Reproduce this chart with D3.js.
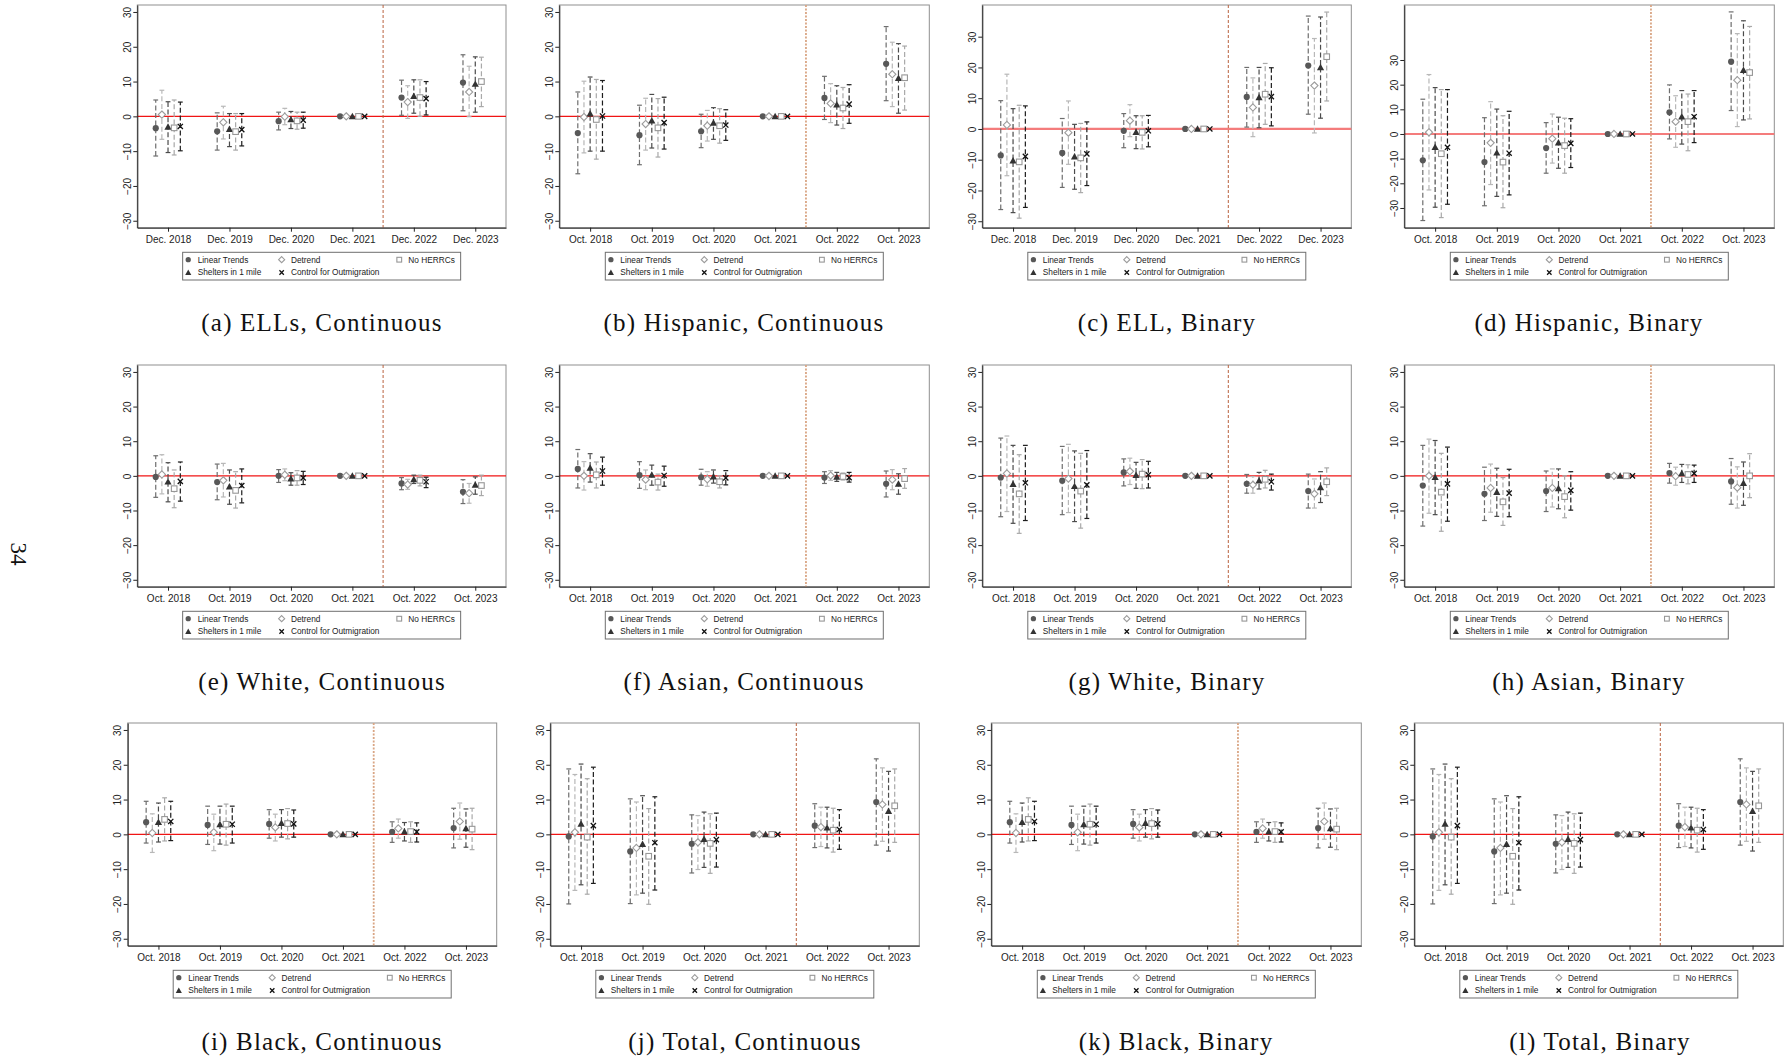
<!DOCTYPE html>
<html>
<head>
<meta charset="utf-8">
<script src="https://cdn.jsdelivr.net/npm/d3@7"></script>
<style>
  html, body { margin: 0; padding: 0; background: #fff; }
  svg { display: block; }
</style>
</head>
<body>
<script>
// ---------- categories, series, ticks ----------
const catsDec = ["Dec. 2018", "Dec. 2019", "Dec. 2020", "Dec. 2021", "Dec. 2022", "Dec. 2023"];
const catsOct = ["Oct. 2018", "Oct. 2019", "Oct. 2020", "Oct. 2021", "Oct. 2022", "Oct. 2023"];
const seriesNames = ["Linear Trends", "Detrend", "Shelters in 1 mile", "No HERRCs", "Control for Outmigration"];
const yTicks = [-30, -20, -10, 0, 10, 20, 30];

// Each estimate table: one row per series (order of seriesNames), one column per period.
// lo / hi are the confidence bounds; the 2021 reference period has no interval.

// (a) ELLs, Continuous
const ellsContEst = [
  [-3.4, -4.3, -1.4, 0, 5.4, 9.7],
  [0.5, -1.7, -0.1, 0, 4.1, 7.0],
  [-3.0, -3.7, -0.9, 0, 5.8, 9.3],
  [-3.3, -4.4, -1.3, 0, 5.4, 10.0],
  [-2.9, -3.8, -1.1, 0, 5.1, null]
];
const ellsContLo = [
  [-11.4, -9.7, -3.9, null, 0.3, 1.6],
  [-6.6, -6.5, -2.4, null, -0.6, -0.1],
  [-10.4, -8.7, -3.5, null, 0.9, 1.2],
  [-11.1, -9.7, -3.7, null, 0.0, 2.8],
  [-9.9, -8.5, -3.4, null, 0.4, null]
];
const ellsContHi = [
  [4.7, 1.0, 1.2, null, 10.4, 17.7],
  [7.5, 2.9, 2.3, null, 8.8, 14.4],
  [4.2, 0.8, 1.4, null, 10.5, 17.1],
  [4.7, 0.8, 1.2, null, 10.5, 17.0],
  [4.1, 0.8, 1.2, null, 10.0, null]
];

// (b) Hispanic, Continuous
const hispContEst = [
  [-4.8, -5.4, -4.3, 0, 5.3, 15.1],
  [-0.2, -2.2, -2.7, 0, 3.7, 12.1],
  [0.8, -1.2, -1.9, 0, 3.4, 11.0],
  [-0.9, -3.3, -2.7, 0, 2.4, 11.1],
  [0.1, -1.8, -2.5, 0, 3.5, null]
];
const hispContLo = [
  [-16.5, -13.9, -9.0, null, -0.9, 4.5],
  [-10.5, -9.7, -7.1, null, -1.8, 2.8],
  [-10.0, -9.1, -6.6, null, -2.5, 0.9],
  [-12.3, -11.7, -7.7, null, -3.5, 1.8],
  [-10.0, -9.4, -6.9, null, -2.0, null]
];
const hispContHi = [
  [7.0, 3.2, 0.6, null, 11.5, 25.8],
  [10.1, 5.2, 1.7, null, 9.4, 21.3],
  [11.3, 6.3, 2.5, null, 8.8, 20.9],
  [10.6, 5.1, 2.2, null, 8.3, 20.2],
  [10.3, 5.5, 1.9, null, 9.1, null]
];

// (c) ELL, Binary
const ellBinEst = [
  [-8.6, -7.8, -0.6, 0, 10.4, 20.6],
  [1.3, -1.2, 2.7, 0, 7.0, 14.1],
  [-10.3, -9.0, -1.0, 0, 10.3, 20.0],
  [-10.7, -9.4, -1.1, 0, 11.3, 23.5],
  [-8.9, -8.1, -0.6, 0, 10.5, null]
];
const ellBinLo = [
  [-26.2, -19.0, -6.1, null, 0.6, 4.8],
  [-15.2, -11.5, -2.5, null, -2.5, -1.3],
  [-27.2, -19.6, -6.4, null, 0.4, 3.5],
  [-29.0, -20.7, -6.5, null, 1.5, 9.1],
  [-25.5, -18.4, -5.8, null, 1.0, null]
];
const ellBinHi = [
  [9.2, 3.4, 5.0, null, 20.0, 36.7],
  [17.8, 9.1, 7.9, null, 16.6, 29.4],
  [6.6, 1.5, 4.3, null, 20.0, 36.4],
  [7.7, 1.8, 4.3, null, 21.3, 38.0],
  [7.5, 2.3, 4.4, null, 19.9, null]
];

// (d) Hispanic, Binary
const hispBinEst = [
  [-10.7, -11.4, -5.7, 0, 8.8, 29.3],
  [0.7, -3.6, -1.9, 0, 5.0, 21.8],
  [-5.3, -7.6, -3.5, 0, 7.0, 25.9],
  [-8.0, -11.4, -4.7, 0, 5.0, 24.9],
  [-5.4, -7.8, -3.8, 0, 7.0, null]
];
const hispBinLo = [
  [-35.1, -29.1, -15.9, null, -2.0, 9.5],
  [-22.7, -20.5, -11.8, null, -5.4, 3.0],
  [-29.7, -25.3, -13.9, null, -4.1, 5.7],
  [-33.9, -29.9, -15.9, null, -6.8, 6.1],
  [-28.5, -24.7, -13.6, null, -3.5, null]
];
const hispBinHi = [
  [14.1, 6.6, 4.6, null, 19.9, 49.5],
  [24.1, 13.1, 8.1, null, 15.5, 40.7],
  [18.8, 10.1, 6.8, null, 17.6, 45.9],
  [18.0, 7.4, 6.4, null, 16.2, 43.6],
  [18.0, 9.2, 6.2, null, 17.6, null]
];

// (e) White, Continuous
const whiteContEst = [
  [-0.3, -1.8, 0.0, 0, -2.2, -4.6],
  [0.4, -1.3, 0.3, 0, -2.5, -5.0],
  [-1.7, -3.1, -0.8, 0, -1.0, -2.6],
  [-3.7, -4.2, -0.6, 0, -1.3, -2.8],
  [-1.6, -2.8, -0.6, 0, -1.7, null]
];
const whiteContLo = [
  [-6.2, -6.9, -1.9, null, -4.0, -8.0],
  [-5.2, -6.1, -1.4, null, -3.9, -7.9],
  [-7.5, -8.2, -2.7, null, -2.2, -5.3],
  [-9.2, -9.3, -2.7, null, -2.9, -5.7],
  [-7.3, -7.8, -2.5, null, -3.4, null]
];
const whiteContHi = [
  [5.8, 3.4, 1.8, null, -0.5, -1.1],
  [6.1, 3.6, 2.0, null, -1.0, -2.2],
  [3.8, 1.7, 0.9, null, 0.2, -0.3],
  [1.7, 1.2, 1.5, null, 0.2, 0.2],
  [4.0, 2.0, 1.3, null, -0.4, null]
];

// (f) Asian, Continuous
const asianContEst = [
  [2.0, 0.2, -0.4, 0, -0.5, -2.3],
  [0.0, -1.1, -1.0, 0, 0.1, -1.1],
  [2.3, 0.3, -0.2, 0, -0.3, -2.3],
  [0.3, -1.8, -1.7, 0, -0.2, -0.8],
  [1.4, 0.1, -0.6, 0, -0.5, null]
];
const asianContLo = [
  [-3.5, -3.6, -2.7, null, -2.2, -6.1],
  [-4.1, -4.0, -3.0, null, -1.3, -4.0],
  [-1.8, -2.7, -2.1, null, -1.6, -5.3],
  [-3.5, -4.1, -3.5, null, -1.2, -3.6],
  [-2.7, -3.0, -2.6, null, -1.8, null]
];
const asianContHi = [
  [7.6, 4.1, 1.9, null, 1.2, 1.4],
  [4.1, 1.7, 1.2, null, 1.5, 1.8],
  [6.4, 3.1, 1.7, null, 1.0, 0.6],
  [4.0, 0.5, 0.0, null, 0.8, 2.1],
  [5.4, 2.8, 1.5, null, 1.0, null]
];

// (g) White, Binary
const whiteBinEst = [
  [-0.5, -1.4, 1.0, 0, -2.3, -4.4],
  [0.7, -0.8, 1.3, 0, -2.6, -5.2],
  [-2.4, -3.0, 0.2, 0, -1.4, -3.3],
  [-5.2, -4.4, 0.5, 0, -1.0, -1.7],
  [-2.0, -2.6, 0.3, 0, -1.7, null]
];
const whiteBinLo = [
  [-11.8, -11.2, -2.9, null, -5.0, -9.3],
  [-10.3, -10.6, -2.5, null, -5.0, -9.3],
  [-13.7, -13.2, -3.6, null, -3.8, -7.7],
  [-16.6, -15.1, -3.7, null, -3.5, -5.7],
  [-12.9, -12.3, -3.5, null, -4.1, null]
];
const whiteBinHi = [
  [10.9, 8.5, 4.9, null, 0.4, 0.5],
  [11.5, 9.1, 5.1, null, -0.2, -0.9],
  [8.8, 7.2, 3.9, null, 1.0, 1.2],
  [6.1, 6.5, 4.7, null, 1.6, 2.3],
  [8.8, 7.3, 4.2, null, 0.5, null]
];

// (h) Asian, Binary
const asianBinEst = [
  [-2.8, -5.2, -4.4, 0, 0.8, -1.6],
  [0.0, -3.5, -3.5, 0, -0.1, -3.4],
  [-0.4, -4.7, -3.6, 0, 0.7, -2.1],
  [-4.7, -7.5, -6.0, 0, 0.4, 0.0],
  [-2.3, -5.0, -4.2, 0, 0.7, null]
];
const asianBinLo = [
  [-14.5, -12.9, -10.3, null, -2.1, -8.2],
  [-10.8, -10.5, -9.0, null, -2.7, -9.3],
  [-11.2, -11.7, -9.5, null, -1.9, -8.5],
  [-16.0, -14.3, -12.1, null, -2.3, -6.3],
  [-13.1, -11.8, -9.9, null, -1.9, null]
];
const asianBinHi = [
  [8.8, 2.5, 1.4, null, 3.6, 5.0],
  [10.6, 3.4, 2.0, null, 2.5, 2.6],
  [10.2, 2.2, 2.0, null, 3.3, 4.0],
  [6.5, -0.5, 0.0, null, 3.2, 6.4],
  [8.3, 1.9, 1.2, null, 3.1, null]
];

// (i) Black, Continuous  and  (k) Black, Binary
const blackEst = [
  [3.5, 2.7, 3.0, 0, 0.7, 1.8],
  [0.4, 0.6, 2.0, 0, 1.7, 3.7],
  [3.5, 2.9, 3.2, 0, 0.8, 1.7],
  [4.3, 2.9, 3.1, 0, 0.8, 1.5],
  [3.7, 2.9, 3.0, 0, 0.7, null]
];
const blackLo = [
  [-2.5, -2.9, -1.1, null, -2.3, -3.9],
  [-5.2, -4.7, -1.9, null, -1.1, -1.4],
  [-2.2, -2.8, -0.8, null, -1.9, -3.7],
  [-1.9, -3.1, -1.3, null, -2.3, -4.4],
  [-1.8, -2.5, -0.8, null, -2.2, null]
];
const blackHi = [
  [9.5, 8.1, 7.1, null, 3.6, 7.5],
  [5.9, 5.8, 5.8, null, 4.4, 9.0],
  [9.0, 8.1, 7.1, null, 3.4, 7.3],
  [10.5, 8.7, 7.4, null, 3.6, 7.5],
  [9.5, 8.1, 7.0, null, 3.3, null]
];

// (j) Total, Continuous  and  (l) Total, Binary
const totalEst = [
  [-0.6, -4.9, -2.7, 0, 2.5, 9.3],
  [0.6, -3.9, -2.3, 0, 2.1, 8.6],
  [3.0, -2.8, -1.4, 0, 1.9, 6.7],
  [-0.8, -6.3, -2.6, 0, 1.2, 8.2],
  [2.5, -2.4, -1.5, 0, 1.4, null]
];
const totalLo = [
  [-20.0, -19.9, -11.1, null, -3.8, -3.1],
  [-16.1, -17.4, -10.1, null, -3.5, -2.0],
  [-14.5, -16.9, -9.5, null, -3.9, -4.8],
  [-17.2, -20.1, -11.2, null, -5.1, -2.3],
  [-14.1, -16.0, -9.4, null, -4.3, null]
];
const totalHi = [
  [18.8, 10.2, 5.6, null, 8.8, 21.7],
  [17.2, 9.3, 5.4, null, 7.8, 19.1],
  [20.2, 11.1, 6.4, null, 7.8, 18.1],
  [16.0, 7.4, 5.9, null, 7.5, 18.8],
  [19.3, 10.8, 6.1, null, 7.1, null]
];

// ---------- panel table ----------
const panels = [
  { caption: "(a) ELLs, Continuous",     cats: catsDec, est: ellsContEst,  lo: ellsContLo,  hi: ellsContHi,  yDomain: [-32, 32] },
  { caption: "(b) Hispanic, Continuous", cats: catsOct, est: hispContEst,  lo: hispContLo,  hi: hispContHi,  yDomain: [-32, 32] },
  { caption: "(c) ELL, Binary",          cats: catsDec, est: ellBinEst,    lo: ellBinLo,    hi: ellBinHi,    yDomain: [-32.1, 40.3] },
  { caption: "(d) Hispanic, Binary",     cats: catsOct, est: hispBinEst,   lo: hispBinLo,   hi: hispBinHi,   yDomain: [-38, 52.3] },
  { caption: "(e) White, Continuous",    cats: catsOct, est: whiteContEst, lo: whiteContLo, hi: whiteContHi, yDomain: [-32, 32] },
  { caption: "(f) Asian, Continuous",    cats: catsOct, est: asianContEst, lo: asianContLo, hi: asianContHi, yDomain: [-32, 32] },
  { caption: "(g) White, Binary",        cats: catsOct, est: whiteBinEst,  lo: whiteBinLo,  hi: whiteBinHi,  yDomain: [-32, 32] },
  { caption: "(h) Asian, Binary",        cats: catsOct, est: asianBinEst,  lo: asianBinLo,  hi: asianBinHi,  yDomain: [-32, 32] },
  { caption: "(i) Black, Continuous",    cats: catsOct, est: blackEst,     lo: blackLo,     hi: blackHi,     yDomain: [-32, 32] },
  { caption: "(j) Total, Continuous",    cats: catsOct, est: totalEst,     lo: totalLo,     hi: totalHi,     yDomain: [-32, 32] },
  { caption: "(k) Black, Binary",        cats: catsOct, est: blackEst,     lo: blackLo,     hi: blackHi,     yDomain: [-32, 32] },
  { caption: "(l) Total, Binary",        cats: catsOct, est: totalEst,     lo: totalLo,     hi: totalHi,     yDomain: [-32, 32] }
];

// ---------- layout ----------
// plot region per panel: [left, right, top, bottom]
const frames = [
  [137.3, 506.0, 5, 227.7], [559.3, 929.3, 5, 227.7], [982.3, 1351.3, 5, 227.7], [1404.3, 1774.3, 5, 227.7],
  [137.3, 506.0, 365, 586.7], [559.3, 929.3, 365, 586.7], [982.3, 1351.3, 365, 586.7], [1404.3, 1774.3, 365, 586.7],
  [127.7, 496.7, 723, 945.7], [550.3, 919.3, 723, 945.7], [991.3, 1361.3, 723, 945.7], [1414.3, 1783.3, 723, 945.7]
];
const captionX = [322, 744, 1167, 1589, 322, 744, 1167, 1589, 322, 745, 1176, 1600];
const captionY = [322, 322, 322, 322, 681.5, 681.5, 681.5, 681.5, 1041, 1041, 1041, 1041];
// dashed policy line look: "fine" = thin dashed, "soft" = wider dotted
const vlineLook = ["fine", "soft", "fine", "soft", "fine", "soft", "fine", "soft", "soft", "fine", "soft", "fine"];
const zeroLook = ["thin", "thin", "wide", "wide", "thin", "thin", "thin", "thin", "thin", "thin", "thin", "thin"];

const offsets = [-0.2, -0.1, 0, 0.1, 0.2];
const barColor = ["#6e6e6e", "#b8b8b8", "#4b4b4b", "#a9a9a9", "#1c1c1c"];
const markerKind = ["circle", "diamond", "triangle", "square", "cross"];

const sansFont = "'Liberation Sans', Arial, Helvetica, sans-serif";
const serifFont = "'Liberation Serif', 'Times New Roman', serif";

const svg = d3.select("body").append("svg")
  .attr("width", 1790).attr("height", 1058)
  .attr("viewBox", "0 0 1790 1058");

function drawMarker(g, kind, cx, cy, k) {
  // k scales the glyph (1 = plot size)
  if (kind === "circle") {
    g.append("circle").attr("cx", cx).attr("cy", cy).attr("r", 3.1 * k).attr("fill", "#585858");
  } else if (kind === "diamond") {
    const r = 3.6 * k;
    g.append("path")
      .attr("d", `M${cx},${cy - r}L${cx + r},${cy}L${cx},${cy + r}L${cx - r},${cy}Z`)
      .attr("fill", "#fff").attr("stroke", "#9c9c9c").attr("stroke-width", 1.1);
  } else if (kind === "triangle") {
    const r = 3.6 * k;
    g.append("path")
      .attr("d", `M${cx},${cy - r}L${cx + r},${cy + r * 0.8}L${cx - r},${cy + r * 0.8}Z`)
      .attr("fill", "#333");
  } else if (kind === "square") {
    const r = 2.8 * k;
    g.append("rect").attr("x", cx - r).attr("y", cy - r).attr("width", 2 * r).attr("height", 2 * r)
      .attr("fill", "#fff").attr("stroke", "#979797").attr("stroke-width", 1.1);
  } else {
    const r = 2.6 * k;
    g.append("path")
      .attr("d", `M${cx - r},${cy - r}L${cx + r},${cy + r}M${cx - r},${cy + r}L${cx + r},${cy - r}`)
      .attr("stroke", "#111").attr("stroke-width", 1.3).attr("fill", "none");
  }
}

panels.forEach((p, i) => {
  const [x0, x1, y0, y1] = frames[i];
  const x = d3.scaleLinear().domain([0.5, 6.5]).range([x0, x1]);
  const y = d3.scaleLinear().domain(p.yDomain).range([y1, y0]);
  const g = svg.append("g").attr("class", "panel");

  // plot region outline
  g.append("rect")
    .attr("x", x0).attr("y", y0).attr("width", x1 - x0).attr("height", y1 - y0)
    .attr("fill", "#fff").attr("stroke", "#8f8f8f").attr("stroke-width", 1);

  // zero reference line
  const wideZero = zeroLook[i] === "wide";
  g.append("line")
    .attr("x1", x0).attr("x2", x1).attr("y1", y(0)).attr("y2", y(0))
    .attr("stroke", wideZero ? "#f47c7c" : "#f01414")
    .attr("stroke-width", wideZero ? 2.2 : 1.3);

  // policy line between 2021 and 2022
  const soft = vlineLook[i] === "soft";
  g.append("line")
    .attr("x1", x(4.5)).attr("x2", x(4.5)).attr("y1", y0).attr("y2", y1)
    .attr("stroke", soft ? "#d9a584" : "#b9623f")
    .attr("stroke-width", soft ? 1.8 : 1)
    .attr("stroke-dasharray", soft ? "2,1.5" : "3,2");

  // axes
  const xAxis = d3.axisBottom(x).tickValues([1, 2, 3, 4, 5, 6])
    .tickFormat(d => p.cats[d - 1]).tickSize(4).tickSizeOuter(0).tickPadding(4);
  const gx = g.append("g").attr("transform", `translate(0,${y1})`).call(xAxis);
  gx.select(".domain").attr("stroke", "#222");
  gx.selectAll(".tick line").attr("stroke", "#222");
  gx.selectAll(".tick text").attr("font-family", sansFont).attr("font-size", 10).attr("fill", "#222");

  const yAxis = d3.axisLeft(y).tickValues(yTicks).tickSize(4).tickSizeOuter(0);
  const gy = g.append("g").attr("transform", `translate(${x0},0)`).call(yAxis);
  gy.select(".domain").attr("stroke", "#222");
  gy.selectAll(".tick line").attr("stroke", "#222");
  gy.selectAll(".tick text")
    .attr("font-family", sansFont).attr("font-size", 10).attr("fill", "#222")
    .attr("x", null).attr("dy", null)
    .attr("text-anchor", "middle")
    .attr("transform", "translate(-10,0) rotate(-90)")
    .attr("dominant-baseline", "central");

  // confidence intervals
  const bars = g.append("g");
  p.est.forEach((row, s) => {
    row.forEach((v, t) => {
      const lo = p.lo[s][t], hi = p.hi[s][t];
      if (v === null || lo === null || hi === null) return;
      const cx = x(t + 1 + offsets[s]);
      bars.append("line")
        .attr("x1", cx).attr("x2", cx).attr("y1", y(lo)).attr("y2", y(hi))
        .attr("stroke", barColor[s]).attr("stroke-width", 1.2).attr("stroke-dasharray", "5,2.6");
      [lo, hi].forEach(b => {
        bars.append("line")
          .attr("x1", cx - 2.4).attr("x2", cx + 2.4).attr("y1", y(b)).attr("y2", y(b))
          .attr("stroke", barColor[s]).attr("stroke-width", 1.2);
      });
    });
  });

  // point estimates
  const marks = g.append("g");
  p.est.forEach((row, s) => {
    row.forEach((v, t) => {
      if (v === null) return;
      drawMarker(marks, markerKind[s], x(t + 1 + offsets[s]), y(v), 1);
    });
  });

  // legend: three columns, two rows
  const lw = 278, lh = 27.7;
  const lx = (x0 + x1) / 2 - lw / 2, ly = y1 + 24.6;
  const lg = g.append("g").attr("transform", `translate(${lx},${ly})`);
  lg.append("rect").attr("width", lw).attr("height", lh)
    .attr("fill", "#fff").attr("stroke", "#6f6f6f").attr("stroke-width", 1);
  const symX = [5.6, 99, 216.6], txtX = [15, 108.3, 225.6], rowY = [7.4, 20.2];
  const slots = [[0, 0], [0, 1], [1, 0], [0, 2], [1, 1]]; // [row, col] per series
  seriesNames.forEach((name, s) => {
    const [r, c] = slots[s];
    drawMarker(lg, markerKind[s], symX[c], rowY[r], 0.85);
    lg.append("text")
      .attr("x", txtX[c]).attr("y", rowY[r]).attr("dominant-baseline", "central")
      .attr("font-family", sansFont).attr("font-size", 8.3).attr("fill", "#222")
      .text(name);
  });

  // caption
  svg.append("text")
    .attr("x", captionX[i]).attr("y", captionY[i])
    .attr("text-anchor", "middle").attr("dominant-baseline", "central")
    .attr("font-family", serifFont).attr("font-size", 25).attr("letter-spacing", 1.2)
    .attr("fill", "#111")
    .text(p.caption);
});

// page number in the margin
svg.append("text")
  .attr("transform", "translate(18,554) rotate(90)")
  .attr("text-anchor", "middle").attr("dominant-baseline", "central")
  .attr("font-family", serifFont).attr("font-size", 23).attr("fill", "#111")
  .text("34");
</script>
</body>
</html>
